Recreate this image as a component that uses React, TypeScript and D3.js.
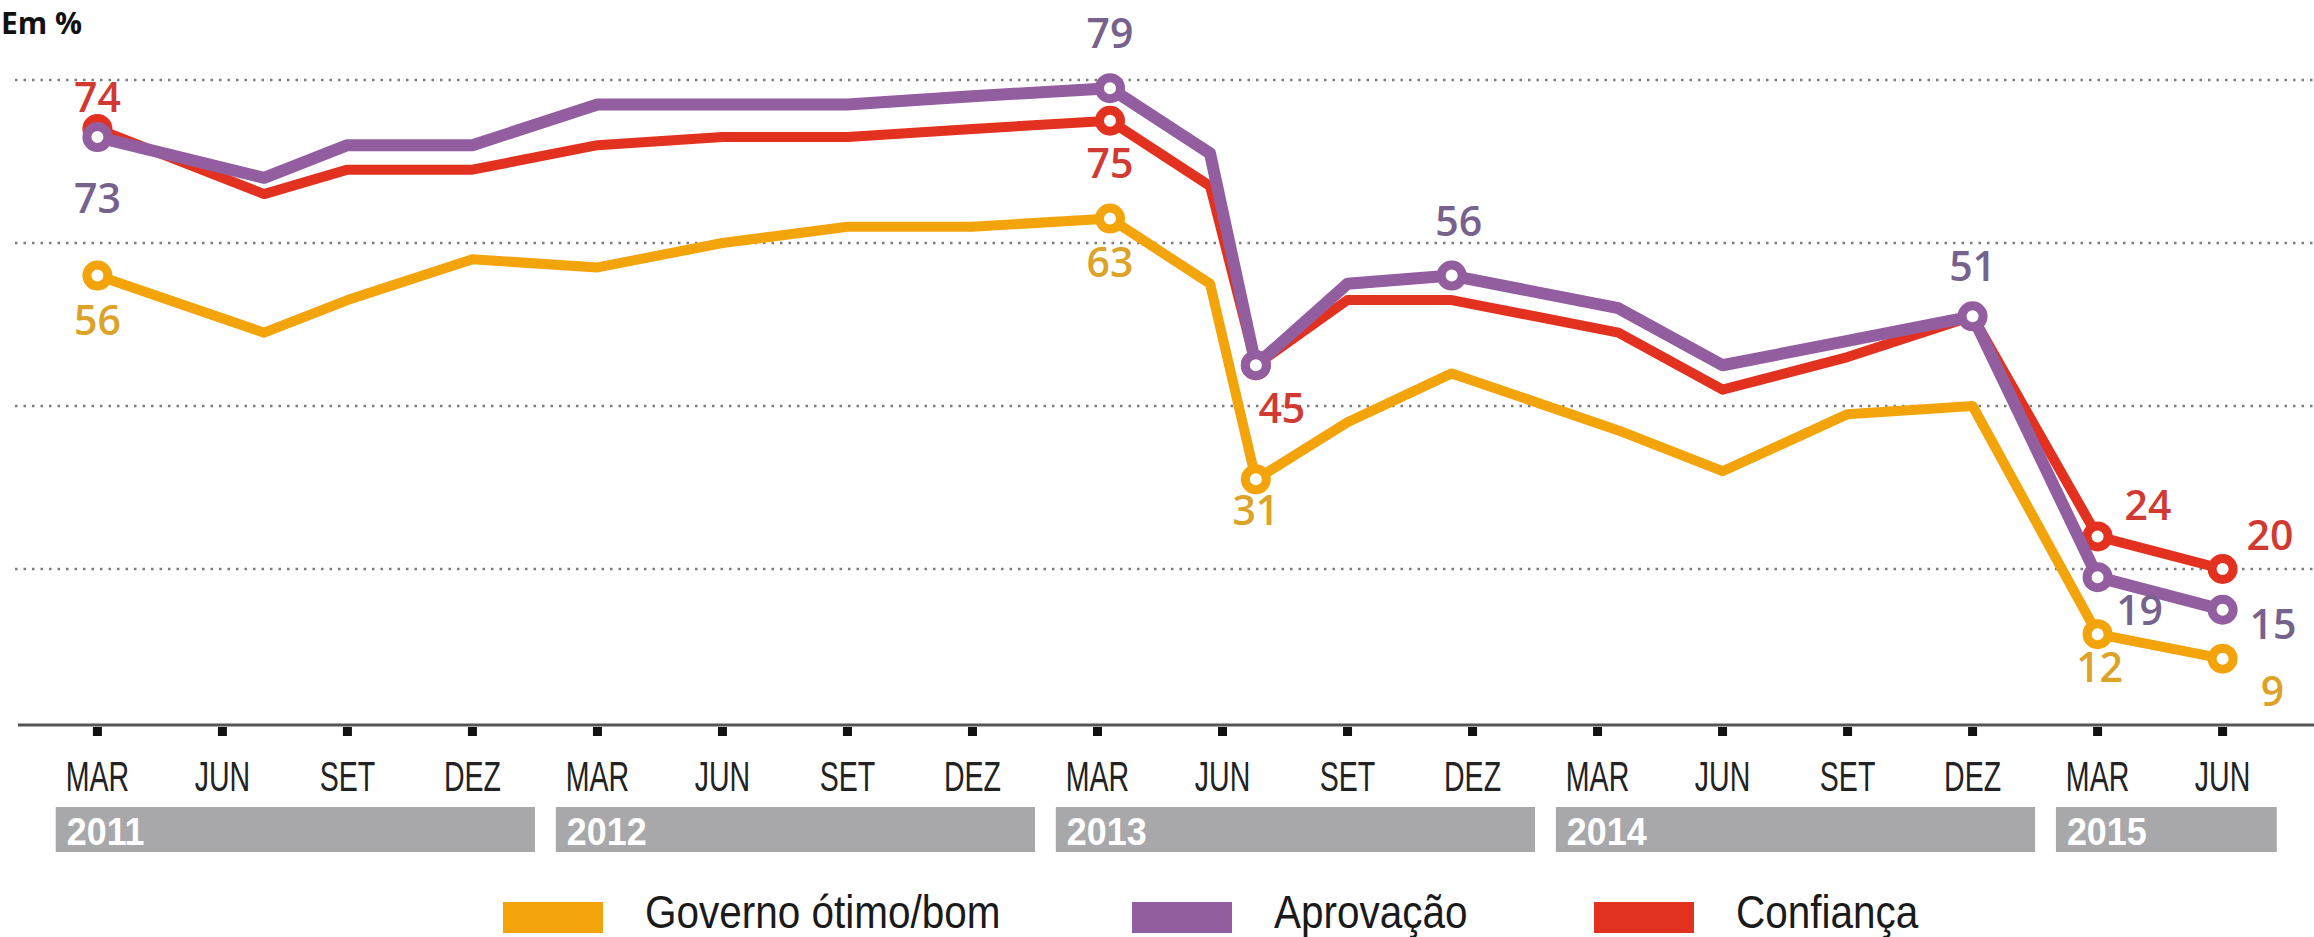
import * as d3 from 'd3';

// survey positions, in months counted from MAR 2011
const surveyMonths = [0, 4, 6, 9, 12, 15, 18, 21, 24.3, 26.7, 27.8, 30, 32.5, 36.5, 39, 42, 45, 48, 51];
const governo = [56, 49, 53, 58, 57, 60, 62, 62, 63, 55, 31, 38, 44, 37, 32, 39, 40, 12, 9];
const aprovacao = [73, 68, 72, 72, 77, 77, 77, 78, 79, 71, 45, 55, 56, 52, 45, 48, 51, 19, 15];
const confianca = [74, 66, 69, 69, 72, 73, 73, 74, 75, 67, 45, 53, 53, 49, 42, 46, 51, 24, 20];

const tickLabels = ['MAR', 'JUN', 'SET', 'DEZ', 'MAR', 'JUN', 'SET', 'DEZ', 'MAR', 'JUN', 'SET', 'DEZ',
  'MAR', 'JUN', 'SET', 'DEZ', 'MAR', 'JUN'];
const years = ['2011', '2012', '2013', '2014', '2015'];
const gridValues = [20, 40, 60, 80];

const W = 2314;
const H = 937;

const x = d3.scaleLinear().domain([0, 51]).range([97.4, 2222.6]);
const y = d3.scaleLinear().domain([0, 80]).range([732, 80]);

type Lbl = { i: number; dx: number; dy: number; anchor?: string };

const series = [
  {
    name: 'Governo ótimo/bom', values: governo, color: '#F4A40B', text: '#DDA228', width: 10,
    dots: [0, 8, 10, 17, 18],
    labels: [
      { i: 0, dx: 0, dy: 59 }, { i: 8, dx: 0, dy: 58 }, { i: 10, dx: 0, dy: 46 },
      { i: 17, dx: 2, dy: 48 }, { i: 18, dx: 50, dy: 47 },
    ] as Lbl[],
  },
  {
    name: 'Confiança', values: confianca, color: '#E2321F', text: '#D13A32', width: 10,
    dots: [0, 8, 10, 17, 18],
    labels: [
      { i: 0, dx: 0, dy: -17 }, { i: 8, dx: 0, dy: 57 }, { i: 10, dx: 26, dy: 58 },
      { i: 17, dx: 27, dy: -16, anchor: 'start' }, { i: 18, dx: 24, dy: -19, anchor: 'start' },
    ] as Lbl[],
  },
  {
    name: 'Aprovação', values: aprovacao, color: '#925E9F', text: '#76628C', width: 12,
    dots: [0, 8, 10, 12, 16, 17, 18],
    labels: [
      { i: 0, dx: 0, dy: 76 }, { i: 8, dx: 0, dy: -40 }, { i: 12, dx: 7, dy: -40 },
      { i: 16, dx: 0, dy: -35 }, { i: 17, dx: 42, dy: 48 }, { i: 18, dx: 27, dy: 29, anchor: 'start' },
    ] as Lbl[],
  },
];

const legendOrder = [0, 2, 1];
const legendX = [503, 1132, 1594];

const line = d3.line<number>()
  .x((_, i) => x(surveyMonths[i]))
  .y(d => y(d));

const narrow = "'Liberation Sans', Arial, sans-serif";

export default function App() {
  const axisY = y(0) - 7;
  const ticks = d3.range(0, 52, 3);
  return (
    <svg width={W} height={H} style={{ position: 'absolute', left: 0, top: 0, background: '#fff', display: 'block' }}>
      <rect width={W} height={H} fill="#fff" />
      <text x={1} y={34} fontFamily="'Open Sans', sans-serif" fontWeight={700} fontSize={30} fill="#111">Em %</text>

      {/* grid */}
      {gridValues.map(v => (
        <line key={v} x1={15} x2={W} y1={y(v)} y2={y(v)} stroke="#7d7d7d" strokeWidth={2.5}
          strokeDasharray="2.5 6" />
      ))}

      {/* axis */}
      <line x1={18} x2={W} y1={axisY} y2={axisY} stroke="#555" strokeWidth={3} />
      {ticks.map((m, k) => (
        <g key={m}>
          <rect x={x(m) - 4.5} y={axisY + 2} width={9} height={9} fill="#111" />
          <text transform={`translate(${x(m)},791) scale(0.68,1)`} textAnchor="middle" fontFamily={narrow}
            fontSize={42} fill="#222">{tickLabels[k]}</text>
        </g>
      ))}

      {/* year bars */}
      {years.map((yr, k) => {
        const x0 = x(12 * k - 1);
        const x1 = k === years.length - 1 ? x(52.3) : x(12 * k + 10.5);
        return (
          <g key={yr}>
            <rect x={x0} y={807} width={x1 - x0} height={45} fill="#A8A8AA" />
            <text transform={`translate(${x0 + 11},845) scale(0.92,1)`} fontFamily={narrow} fontWeight={700}
              fontSize={39} fill="#fff">{yr}</text>
          </g>
        );
      })}

      {/* lines */}
      {series.map(s => (
        <g key={s.name}>
          <path d={line(s.values) ?? ''} fill="none" stroke={s.color} strokeWidth={s.width}
            strokeLinejoin="round" strokeLinecap="round" />
          {s.dots.map(i => (
            <circle key={i} cx={x(surveyMonths[i])} cy={y(s.values[i])} r={10.5} fill="#fff"
              stroke={s.color} strokeWidth={9} />
          ))}
        </g>
      ))}

      {/* value labels */}
      {series.map(s => s.labels.map(l => (
        <text key={s.name + l.i} x={x(surveyMonths[l.i]) + l.dx} y={y(s.values[l.i]) + l.dy}
          textAnchor={l.anchor ?? 'middle'} fontFamily="'Open Sans', sans-serif" fontWeight={600}
          fontSize={41} fill={s.text}>{s.values[l.i]}</text>
      )))}

      {/* legend */}
      {legendOrder.map((si, k) => (
        <g key={si}>
          <rect x={legendX[k]} y={902} width={100} height={31} fill={series[si].color} />
          <text transform={`translate(${legendX[k] + 142},928) scale(0.88,1)`} fontFamily={narrow}
            fontSize={46} fill="#1a1a1a">{series[si].name}</text>
        </g>
      ))}
    </svg>
  );
}
